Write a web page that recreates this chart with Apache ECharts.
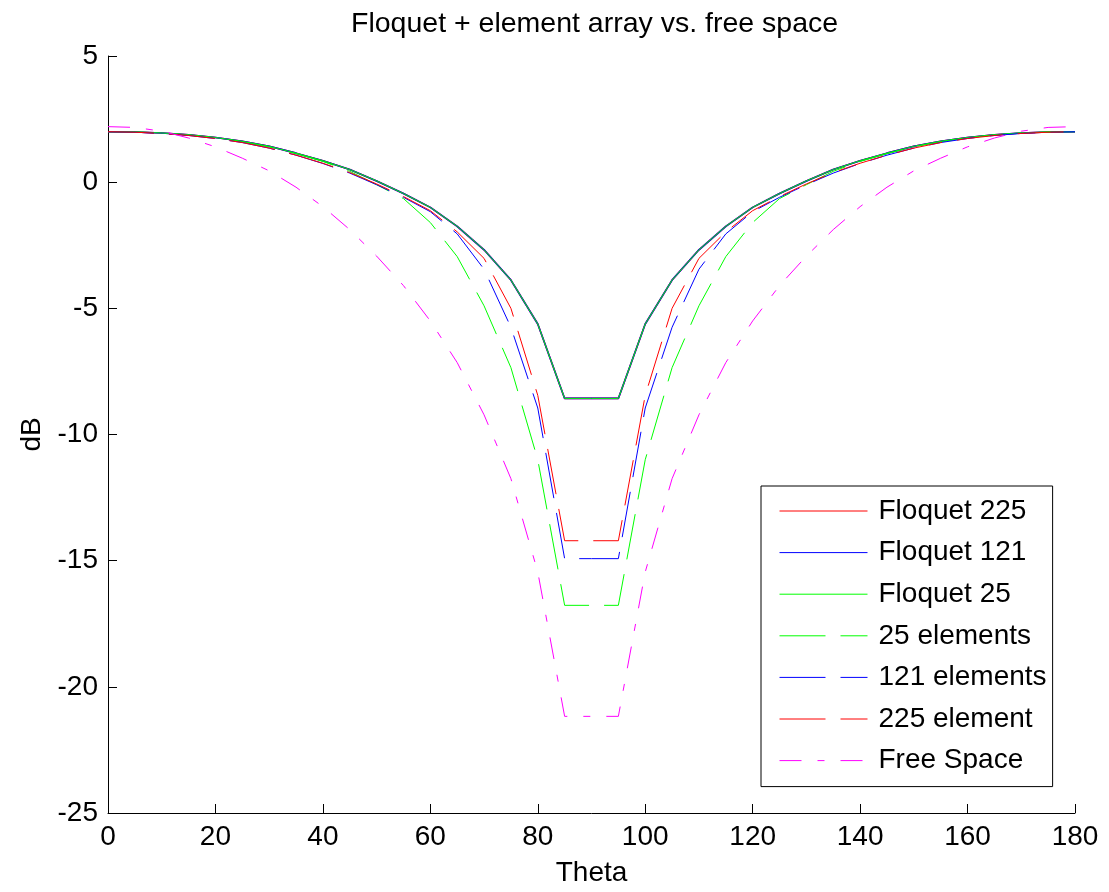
<!DOCTYPE html>
<html>
<head>
<meta charset="utf-8">
<title>Floquet + element array vs. free space</title>
<script src="https://cdn.jsdelivr.net/npm/echarts@6/dist/echarts.min.js"></script>
<style>
  html, body { margin: 0; padding: 0; background: #fff; }
  #chart { width: 1109px; height: 892px; }
</style>
</head>
<body>
<div id="chart"></div>
<script>
const theta = [0, 5, 10, 15, 20, 25, 30, 35, 40, 45, 50, 55, 60, 65, 70, 75, 80, 85, 90,
  95, 100, 105, 110, 115, 120, 125, 130, 135, 140, 145, 150, 155, 160, 165, 170, 175, 180];

const floquet225 = [2.0, 1.99, 1.95, 1.88, 1.77, 1.62, 1.42, 1.15, 0.85, 0.5, 0.05, -0.45, -1.0, -1.75, -2.68, -3.88, -5.62, -8.57, -8.57,
  -8.57, -5.62, -3.88, -2.68, -1.75, -1.0, -0.45, 0.05, 0.5, 0.85, 1.15, 1.42, 1.62, 1.77, 1.88, 1.95, 1.99, 2.0];
const floquet121 = [2.0, 1.99, 1.95, 1.88, 1.77, 1.62, 1.42, 1.15, 0.85, 0.5, 0.05, -0.45, -1.0, -1.75, -2.68, -3.88, -5.62, -8.57, -8.57,
  -8.57, -5.62, -3.88, -2.68, -1.75, -1.0, -0.45, 0.05, 0.5, 0.85, 1.15, 1.42, 1.62, 1.77, 1.88, 1.95, 1.99, 2.0];
const floquet25 = [2.0, 1.99, 1.95, 1.88, 1.77, 1.62, 1.42, 1.15, 0.85, 0.5, 0.05, -0.45, -1.0, -1.75, -2.68, -3.88, -5.62, -8.57, -8.57,
  -8.57, -5.62, -3.88, -2.68, -1.75, -1.0, -0.45, 0.05, 0.5, 0.85, 1.15, 1.42, 1.62, 1.77, 1.88, 1.95, 1.99, 2.0];
const elements25 = [2.0, 1.99, 1.95, 1.87, 1.76, 1.6, 1.4, 1.13, 0.82, 0.43, -0.1, -0.65, -1.6, -2.95, -4.9, -7.35, -11.0, -16.77, -16.77,
  -16.77, -11.0, -7.35, -4.9, -2.95, -1.6, -0.65, -0.1, 0.43, 0.82, 1.13, 1.4, 1.6, 1.76, 1.87, 1.95, 1.99, 2.0];
const elements121 = [2.0, 1.98, 1.93, 1.85, 1.73, 1.57, 1.35, 1.07, 0.74, 0.36, -0.1, -0.6, -1.17, -2.05, -3.45, -5.75, -8.95, -14.92, -14.92,
  -14.92, -8.95, -5.75, -3.45, -2.05, -1.17, -0.6, -0.1, 0.36, 0.74, 1.07, 1.35, 1.57, 1.73, 1.85, 1.93, 1.98, 2.0];
const elements225 = [2.0, 1.98, 1.93, 1.85, 1.73, 1.57, 1.35, 1.07, 0.75, 0.38, -0.07, -0.57, -1.13, -1.97, -3.02, -5.0, -8.45, -14.21, -14.21,
  -14.21, -8.45, -5.0, -3.02, -1.97, -1.13, -0.57, -0.07, 0.38, 0.75, 1.07, 1.35, 1.57, 1.73, 1.85, 1.93, 1.98, 2.0];
const freeSpace = [2.2, 2.17, 2.02, 1.75, 1.4, 0.95, 0.45, -0.2, -0.97, -1.88, -2.93, -4.1, -5.5, -7.15, -9.22, -11.75, -15.45, -21.17, -21.17,
  -21.17, -15.45, -11.75, -9.22, -7.15, -5.5, -4.1, -2.93, -1.88, -0.97, -0.2, 0.45, 0.95, 1.4, 1.75, 2.02, 2.17, 2.2];

const FONT = '"Liberation Sans", Arial, Helvetica, sans-serif';
const DASH = [46, 15];
const DASH_DOT = [22, 16, 7, 16];

const pairs = (values) => theta.map((t, i) => [t, values[i]]);

const makeSeries = (name, values, color, type, width) => ({
  name,
  type: 'line',
  data: pairs(values),
  symbol: 'none',
  smooth: false,
  lineStyle: { color, width: width || 1, type },
  itemStyle: { color }
});

const chart = echarts.init(document.getElementById('chart'));

const option = {
  animation: false,
  backgroundColor: '#fff',
  title: {
    text: 'Floquet + element array vs. free space',
    left: 346,
    top: 5,
    textStyle: { fontFamily: FONT, fontSize: 28.5, fontWeight: 'normal', color: '#000' }
  },
  grid: { left: 108, right: 34, top: 56, bottom: 74 },
  legend: {
    orient: 'vertical',
    left: 761,
    top: 486,
    padding: [11, 6, 12, 18],
    itemWidth: 88,
    itemHeight: 14,
    itemGap: 13.6,
    backgroundColor: '#fff',
    borderColor: '#000',
    borderWidth: 1,
    itemStyle: { opacity: 0 },
    lineStyle: { width: 1 },
    textStyle: { fontFamily: FONT, fontSize: 28, lineHeight: 28, color: '#000', padding: [0, 0, 0, 6] },
    data: ['Floquet 225', 'Floquet 121', 'Floquet 25', '25 elements', '121 elements', '225 element', 'Free Space']
  },
  xAxis: {
    type: 'value',
    min: 0,
    max: 180,
    interval: 20,
    name: 'Theta',
    nameLocation: 'middle',
    nameGap: 46,
    nameTextStyle: { fontFamily: FONT, fontSize: 28, color: '#000' },
    axisLine: { onZero: false, lineStyle: { color: '#000', width: 1 } },
    axisTick: { inside: true, length: 9, lineStyle: { color: '#000' } },
    axisLabel: { fontFamily: FONT, fontSize: 28, color: '#000', margin: 10 },
    splitLine: { show: false }
  },
  yAxis: {
    type: 'value',
    min: -25,
    max: 5,
    interval: 5,
    name: 'dB',
    nameLocation: 'middle',
    nameRotate: 90,
    nameGap: 62,
    nameTextStyle: { fontFamily: FONT, fontSize: 28, color: '#000' },
    axisLine: { show: true, onZero: false, lineStyle: { color: '#000', width: 1 } },
    axisTick: { show: true, inside: true, length: 9, lineStyle: { color: '#000' } },
    axisLabel: { fontFamily: FONT, fontSize: 28, color: '#000', margin: 10 },
    splitLine: { show: false }
  },
  series: [
    makeSeries('Floquet 225', floquet225, '#ff0000', 'solid', 1.6),
    makeSeries('Floquet 121', floquet121, '#0000ff', 'solid', 1.6),
    makeSeries('Floquet 25', floquet25, '#00ff00', 'solid', 1),
    makeSeries('25 elements', elements25, '#00ff00', DASH),
    makeSeries('121 elements', elements121, '#0000ff', DASH),
    makeSeries('225 element', elements225, '#ff0000', DASH),
    makeSeries('Free Space', freeSpace, '#ff00ff', DASH_DOT)
  ]
};

chart.setOption(option);
</script>
</body>
</html>
